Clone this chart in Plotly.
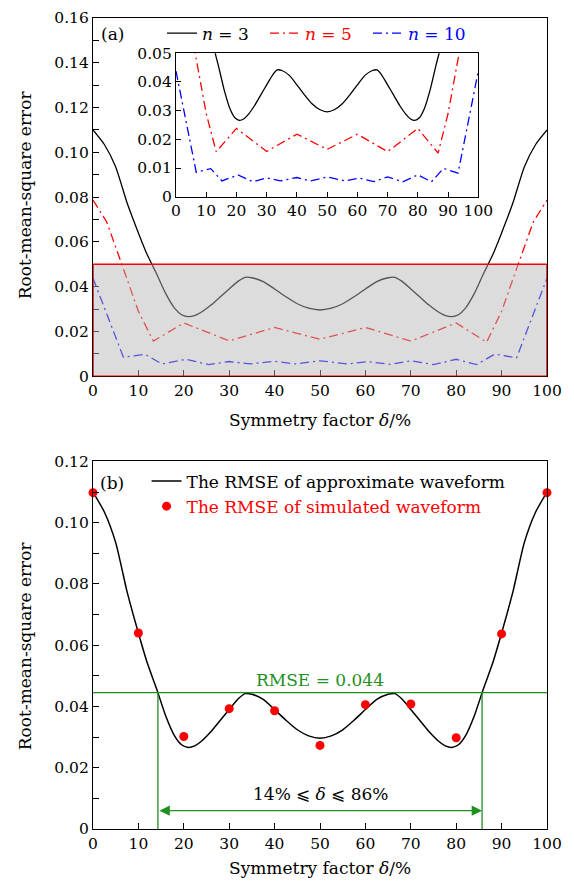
import plotly.graph_objects as go

# ---------------- data ----------------
# n = 3 (also the "approximate waveform" RMSE curve)
delta_n3 = [0, 2.5, 5, 7.5, 10, 12, 14, 16, 18, 19.5, 21, 22.5, 24, 26, 28, 30, 32, 33.5, 35, 37.5,
            40, 42.5, 45, 47.5, 50, 52.5, 55, 57.5, 60, 62.5, 65, 66.5, 68, 70, 72, 74, 76, 77.5,
            79, 80.5, 82, 84, 86, 88, 90, 92.5, 95, 97.5, 100]
rmse_n3 = [0.110, 0.1035, 0.0935, 0.0775, 0.0640, 0.0540, 0.0458, 0.0370, 0.0303, 0.0275, 0.0266,
           0.0272, 0.0288, 0.0318, 0.0354, 0.0390, 0.0425, 0.0442, 0.0440, 0.0423,
           0.0390, 0.0355, 0.0324, 0.0304, 0.0296, 0.0304, 0.0324, 0.0355, 0.0390, 0.0423,
           0.0440, 0.0442, 0.0425, 0.0390, 0.0354, 0.0318, 0.0288, 0.0272,
           0.0266, 0.0275, 0.0303, 0.0370, 0.0458, 0.0540, 0.0640, 0.0775, 0.0935, 0.1035, 0.110]

delta_n5 = [0, 3, 6.7, 10, 13.3, 20, 30, 40, 50, 60, 70, 80, 86.7, 90, 93.3, 97, 100]
rmse_n5 = [0.0787, 0.069, 0.048, 0.029, 0.0157, 0.0238, 0.0158, 0.0218, 0.0165, 0.0218, 0.0157,
           0.0238, 0.0152, 0.029, 0.048, 0.069, 0.0787]

delta_n10 = [0, 6.7, 11.5, 15.2, 20.5, 25.5, 30, 34.5, 40, 44.5, 50, 56, 60.5, 65.5, 70, 75, 80,
             84.5, 88.5, 93.3, 100]
rmse_n10 = [0.0438, 0.0085, 0.0098, 0.0055, 0.0076, 0.0052, 0.0066, 0.0055, 0.0067, 0.0055, 0.0069,
            0.0055, 0.0065, 0.0053, 0.0069, 0.0052, 0.0076, 0.0052, 0.0099, 0.0082, 0.0438]

delta_sim = [0, 10, 20, 30, 40, 50, 60, 70, 80, 90, 100]
rmse_sim = [0.1098, 0.0640, 0.0302, 0.0393, 0.0386, 0.0273, 0.0406, 0.0408, 0.0298, 0.0637, 0.1098]

x_ticks = [0, 10, 20, 30, 40, 50, 60, 70, 80, 90, 100]
y_ticks_a = [0, 0.01, 0.02, 0.03, 0.04, 0.05, 0.06, 0.07, 0.08, 0.09, 0.10, 0.11, 0.12, 0.13, 0.14, 0.15, 0.16]
y_text_a = ["0", "", "0.02", "", "0.04", "", "0.06", "", "0.08", "", "0.10", "", "0.12", "", "0.14", "", "0.16"]
y_ticks_b = [0, 0.01, 0.02, 0.03, 0.04, 0.05, 0.06, 0.07, 0.08, 0.09, 0.10, 0.11, 0.12]
y_text_b = ["0", "", "0.02", "", "0.04", "", "0.06", "", "0.08", "", "0.10", "", "0.12"]
y_ticks_in = [0, 0.01, 0.02, 0.03, 0.04, 0.05]
y_text_in = ["0", "0.01", "0.02", "0.03", "0.04", "0.05"]

shade_limit = 0.05
rmse_threshold = 0.0445
delta_lo, delta_hi = 14.3, 85.7
arrow_level = 0.006

# ---------------- style ----------------
FONT = "DejaVu Serif"
GREEN = "#1f8f1f"
DASH = "9px,4px,2px,4px"
TICK = 15.5
LAB = 17

fig = go.Figure()

# panel (a)
fig.add_trace(go.Scatter(x=delta_n3, y=rmse_n3, mode="lines", line=dict(color="black", width=1.3, shape="spline", smoothing=0.6),
                         name="<i>n</i> = 3", xaxis="x", yaxis="y", legend="legend"))
fig.add_trace(go.Scatter(x=delta_n5, y=rmse_n5, mode="lines", line=dict(color="red", width=1.3, dash=DASH),
                         name="<span style='color:red'><i>n</i> = 5</span>", xaxis="x", yaxis="y", legend="legend"))
fig.add_trace(go.Scatter(x=delta_n10, y=rmse_n10, mode="lines", line=dict(color="blue", width=1.3, dash=DASH),
                         name="<span style='color:blue'><i>n</i> = 10</span>", xaxis="x", yaxis="y", legend="legend"))

# inset
fig.add_trace(go.Scatter(x=delta_n3, y=rmse_n3, mode="lines", line=dict(color="black", width=1.3, shape="spline", smoothing=0.6),
                         showlegend=False, xaxis="x3", yaxis="y3"))
fig.add_trace(go.Scatter(x=delta_n5, y=rmse_n5, mode="lines", line=dict(color="red", width=1.3, dash=DASH),
                         showlegend=False, xaxis="x3", yaxis="y3"))
fig.add_trace(go.Scatter(x=delta_n10, y=rmse_n10, mode="lines", line=dict(color="blue", width=1.3, dash=DASH),
                         showlegend=False, xaxis="x3", yaxis="y3"))

# panel (b)
fig.add_trace(go.Scatter(x=delta_n3, y=rmse_n3, mode="lines", line=dict(color="black", width=1.5, shape="spline", smoothing=0.6),
                         name="The RMSE of approximate waveform", xaxis="x2", yaxis="y2", legend="legend2"))
fig.add_trace(go.Scatter(x=delta_sim, y=rmse_sim, mode="markers", marker=dict(color="red", size=9),
                         cliponaxis=False,
                         name="<span style='color:red'>The RMSE of simulated waveform</span>", xaxis="x2", yaxis="y2", legend="legend2"))

def xax(domain, anchor):
    return dict(domain=domain, anchor=anchor, range=[0, 100], tickmode="array", tickvals=x_ticks,
                ticks="inside", ticklen=6, tickcolor="black", tickwidth=1.2, showline=True, mirror=True,
                linecolor="black", linewidth=1.2, showgrid=False, zeroline=False, ticklabeloverflow="allow",
                tickfont=dict(family=FONT, size=TICK, color="black"))

def yax(domain, anchor, rng, vals, text):
    return dict(domain=domain, anchor=anchor, range=rng, tickmode="array", tickvals=vals, ticktext=text,
                ticks="inside", ticklen=6, tickcolor="black", tickwidth=1.2, showline=True, mirror=True,
                linecolor="black", linewidth=1.2, showgrid=False, zeroline=False, ticklabeloverflow="allow",
                tickfont=dict(family=FONT, size=TICK, color="black"))

fig.update_layout(
    width=574, height=888,
    margin=dict(l=85, r=35, t=6, b=67, autoexpand=False),
    paper_bgcolor="white", plot_bgcolor="white",
    font=dict(family=FONT, size=LAB, color="black"),
    xaxis=xax([0, 1], "y"),
    yaxis=yax([0.5555, 0.9951], "x", [0, 0.16], y_ticks_a, y_text_a),
    xaxis2=xax([0, 1], "y2"),
    yaxis2=yax([0, 0.451], "x2", [0, 0.12], y_ticks_b, y_text_b),
    xaxis3=xax([0.1828, 0.8487], "y3"),
    yaxis3=yax([0.7758, 0.9518], "x3", [0, 0.05], y_ticks_in, y_text_in),
    legend=dict(orientation="h", x=0.152, y=0.976, xanchor="left", yanchor="middle",
                bgcolor="rgba(0,0,0,0)", font=dict(family=FONT, size=LAB), entrywidth=58, tracegroupgap=0),
    legend2=dict(orientation="v", x=0.118, y=0.411, xanchor="left", yanchor="middle",
                 bgcolor="rgba(0,0,0,0)", font=dict(family=FONT, size=LAB), tracegroupgap=0),
)
fig.update_layout(xaxis3=dict(ticklen=5), yaxis3=dict(ticklen=5))

shapes = [
    dict(type="rect", xref="x", yref="y", x0=0, x1=100, y0=0, y1=shade_limit,
         fillcolor="rgba(181,181,181,0.47)", line=dict(color="red", width=1.5), layer="above"),
    dict(type="line", xref="x2", yref="y2", x0=0, x1=100, y0=rmse_threshold, y1=rmse_threshold,
         line=dict(color=GREEN, width=1.3)),
    dict(type="line", xref="x2", yref="y2", x0=delta_lo, x1=delta_lo, y0=0, y1=rmse_threshold,
         line=dict(color=GREEN, width=1.3)),
    dict(type="line", xref="x2", yref="y2", x0=delta_hi, x1=delta_hi, y0=0, y1=rmse_threshold,
         line=dict(color=GREEN, width=1.3)),
]
fig.update_layout(shapes=shapes)

def note(text, x, y, **kw):
    d = dict(text=text, xref="paper", yref="paper", x=x, y=y, showarrow=False,
             xanchor="center", yanchor="middle", font=dict(family=FONT, size=LAB))
    d.update(kw)
    return d

annotations = [
    note("(a)", 0.0419, 0.976),
    note("(b)", 0.0419, 0.4245),
    note("Root-mean-square error", -0.1498, 0.7788, textangle=-90),
    note("Root-mean-square error", -0.1498, 0.2255, textangle=-90),
    note("Symmetry factor <i>δ</i>/%", 0.5, 0.5018),
    note("Symmetry factor <i>δ</i>/%", 0.5, -0.0479),
    dict(text="RMSE = 0.044", xref="x2", yref="y2", x=50, y=rmse_threshold, xanchor="center",
         yanchor="bottom", yshift=1, showarrow=False, font=dict(family=FONT, size=LAB, color=GREEN)),
    dict(text="14% ⩽ <i>δ</i> ⩽ 86%", xref="x2", yref="y2", x=50, y=0.0114, xanchor="center",
         yanchor="middle", showarrow=False, font=dict(family=FONT, size=LAB, color="black")),
    dict(text="", xref="x2", yref="y2", x=delta_hi, y=arrow_level, axref="x2", ayref="y2",
         ax=delta_lo, ay=arrow_level, showarrow=True, arrowside="end+start", arrowhead=2,
         arrowsize=1.6, arrowwidth=1.3, arrowcolor=GREEN, standoff=0, startstandoff=0),
]
fig.update_layout(annotations=annotations)

fig.write_html("out.html")
